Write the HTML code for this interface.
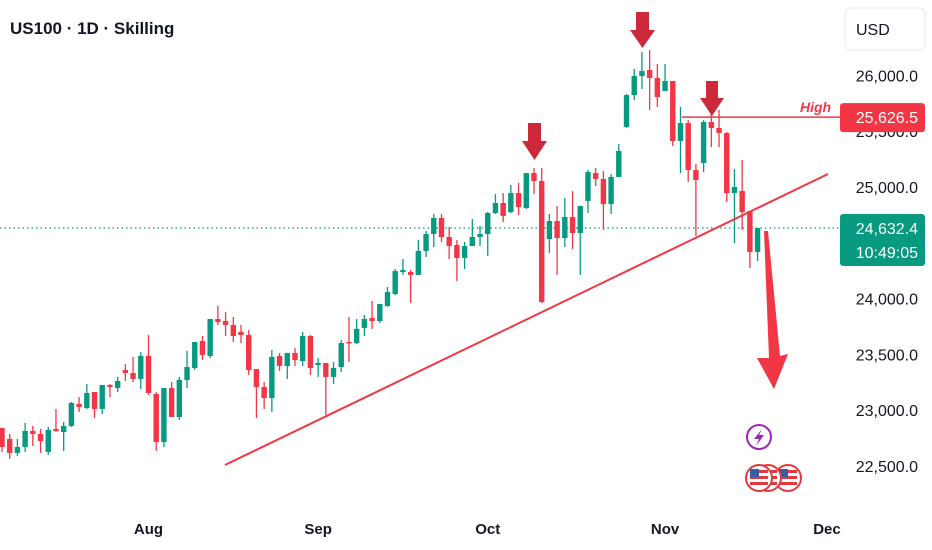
<!DOCTYPE html>
<html><head><meta charset="utf-8">
<style>
html,body{margin:0;padding:0;background:#fff;width:932px;height:550px;overflow:hidden;font-family:"Liberation Sans",sans-serif;}
svg text{font-family:"Liberation Sans",sans-serif;}
</style></head>
<body>
<svg id="chart" width="932" height="550" viewBox="0 0 932 550" xmlns="http://www.w3.org/2000/svg">
  <text x="10" y="34" font-size="17" font-weight="bold" fill="#131722">US100 · 1D · Skilling</text>
  <rect x="845" y="8" width="80" height="42" rx="6" fill="#fff" stroke="#e6e8ee"/>
  <text x="856" y="35" font-size="16" fill="#131722">USD</text>
  <g id="yaxis"></g>
  <g id="xaxis"></g>
  <line id="lastline" x1="0" x2="840" stroke="#089981" stroke-width="1.2" stroke-dasharray="1.5,3"/>
  <g id="candles"></g>
  <line x1="225" y1="465" x2="828" y2="174" stroke="#f23645" stroke-width="2"/>
  <line id="highline" x1="682" x2="840" stroke="#f23645" stroke-width="1.5"/>
  <text x="800" y="112" font-size="14" font-style="italic" font-weight="bold" fill="#f23645">High</text>
  <g id="highlbl"></g>
  <g id="lastlbl"></g>
  <polygon points="528,123 541,123 541,141 547,141 534.5,160 522,141 528,141" fill="#cc2a3b"/>
  <polygon points="636,12 649,12 649,30 655,30 642.5,48 630,30 636,30" fill="#cc2a3b"/>
  <polygon points="706,81 718,81 718,98 724,98 712,116 700,98 706,98" fill="#cc2a3b"/>
  <polygon points="764,231 768,231 780,356 788,354 774,389 757,358 769,358" fill="#f23645"/>
  <g>
    <circle cx="759" cy="437" r="12" fill="#fff" stroke="#9c27b0" stroke-width="2"/>
    <polygon points="762,429 754,439 759,439 756,446 764,435 759,435" fill="#9c27b0"/>
  </g>
  <g id="flags"></g>
</svg>
<script>
// data
const opens  = [22841,22742,22617,22670,22814,22787,22626,22832,22805,22859,23056,23020,23163,23011,23226,23199,23360,23333,23280,23486,23145,22715,23199,22939,23271,23378,23620,23486,23817,23799,23764,23701,23674,23369,23208,23109,23486,23396,23513,23441,23665,23405,23423,23298,23387,23611,23602,23737,23826,23799,23934,24041,24238,24238,24212,24427,24579,24722,24552,24480,24364,24471,24552,24579,24767,24857,24776,24946,24812,25125,25054,24534,24695,24543,24731,24588,24875,25125,25072,24848,25090,25538,25824,25995,26048,25977,25860,25950,25412,25573,25152,25215,25582,25529,25484,24946,24964,24785,24418];
const highs  = [22841,22787,22742,22885,22859,22832,22850,23011,22894,23074,23118,23235,23163,23226,23235,23298,23414,23477,23522,23674,23163,23199,23253,23298,23531,23611,23665,23817,23934,23880,23835,23764,23719,23369,23253,23540,23513,23513,23557,23701,23674,23468,23423,23432,23629,23835,23817,23853,23979,23952,24104,24265,24355,24256,24525,24606,24758,24758,24642,24525,24507,24713,24651,24776,24937,24946,25018,25036,25125,25170,25170,24758,24830,24901,24964,24830,25152,25170,25143,25116,25385,25833,26057,26210,26228,26102,26102,25950,25717,25600,25206,25600,25690,25690,25493,25161,25242,24785,24632];
const lows   = [22626,22563,22590,22626,22679,22617,22599,22805,22635,22850,22984,23011,22930,22966,23118,23163,23262,23253,23190,23136,22635,22670,22939,22912,23199,23360,23450,23468,23764,23665,23611,23602,23316,22930,23011,22984,23351,23280,23396,23396,23316,23298,22957,23235,23342,23432,23593,23665,23728,23781,23925,24032,24212,23961,24212,24373,24462,24507,24355,24158,24265,24471,24471,24382,24758,24686,24767,24749,24803,24937,23961,24409,24212,24462,24444,24212,24767,25009,24615,24758,25090,25529,25780,25878,25690,25717,25860,25367,25125,25045,24561,25134,25358,25358,24866,24498,24615,24274,24337];
const closes = [22670,22617,22670,22814,22787,22724,22823,22814,22859,23065,23029,23154,23011,23226,23208,23262,23333,23280,23486,23154,22715,23199,22939,23271,23387,23611,23495,23817,23790,23764,23665,23674,23360,23208,23109,23477,23396,23513,23450,23665,23378,23423,23298,23378,23602,23602,23728,23817,23799,23952,24059,24247,24256,24212,24427,24579,24722,24552,24471,24364,24471,24552,24579,24767,24857,24740,24946,24821,25125,25054,23970,24695,24543,24731,24588,24830,25134,25072,24848,25090,25323,25824,25995,26039,25977,25806,25950,25412,25573,25152,25063,25582,25529,25484,24946,25000,24776,24418,24632];
const priceTicks = [26000,25500,25000,24000,23500,23000,22500];
const monthLabels = ["Aug","Sep","Oct","Nov","Dec"];
const monthIndex = [19,41,63,86,107];
const lastPrice = 24632.4;
const highPrice = 25626.5;

const NS="http://www.w3.org/2000/svg";
const yOf = p => 187 + (25000 - p) * 0.1116;
const xOf = i => 2 + i * 7.71;
function mk(tag, attrs, parent){ const e=document.createElementNS(NS,tag); for(const k in attrs) e.setAttribute(k,attrs[k]); parent.appendChild(e); return e; }

const fmt = v => v.toLocaleString("en-US",{minimumFractionDigits:1,maximumFractionDigits:1});

const ya=document.getElementById("yaxis");
priceTicks.forEach(p=>{
  const t=mk("text",{x:918,y:yOf(p)+6,"font-size":16,fill:"#131722","text-anchor":"end"},ya);
  
  
  t.textContent=fmt(p);
});
const xa=document.getElementById("xaxis");
monthLabels.forEach((m,i)=>{
  const t=mk("text",{x:xOf(monthIndex[i]),y:534,"font-size":15,"font-weight":"bold",fill:"#131722","text-anchor":"middle"},xa);
  
  
  t.textContent=m;
});

const ll=document.getElementById("lastline");
ll.setAttribute("y1",yOf(lastPrice)); ll.setAttribute("y2",yOf(lastPrice));
const hl=document.getElementById("highline");
hl.setAttribute("y1",yOf(highPrice)); hl.setAttribute("y2",yOf(highPrice));

const cg=document.getElementById("candles");
opens.forEach((o,i)=>{
  const c=closes[i], up=c>=o, col=up?"#089981":"#f23645", x=xOf(i);
  const g=mk("g",{},cg);
  
  
  mk("line",{x1:x,x2:x,y1:yOf(highs[i]),y2:yOf(lows[i]),stroke:col,"stroke-width":1.3},g);
  const top=yOf(Math.max(o,c)), bot=yOf(Math.min(o,c));
  mk("rect",{x:x-2.7,y:top,width:5.4,height:Math.max(1.5,bot-top),fill:col},g);
});

const hg=document.getElementById("highlbl");
const hy=yOf(highPrice);
mk("rect",{x:840,y:hy-14,width:85,height:29,rx:3,fill:"#f23645"},hg);
const ht=mk("text",{x:918,y:hy+6,"font-size":16,fill:"#fff","text-anchor":"end"},hg);
ht.textContent=fmt(highPrice);

const lg=document.getElementById("lastlbl");
const ly=yOf(lastPrice);
mk("rect",{x:840,y:ly-14,width:85,height:52,rx:3,fill:"#089981"},lg);
const lt=mk("text",{x:918,y:ly+6,"font-size":16,fill:"#fff","text-anchor":"end"},lg);
lt.textContent=fmt(lastPrice);
const lt2=mk("text",{x:918,y:ly+30,"font-size":16,fill:"#fff","text-anchor":"end"},lg);
lt2.textContent="10:49:05";

const fg=document.getElementById("flags");
[788,768,759].forEach(cx=>{
  const g=mk("g",{},fg);
  
  
  mk("circle",{cx:cx,cy:478,r:13,fill:"#fff",stroke:"#e03a3e","stroke-width":2},g);
  mk("rect",{x:cx-9,y:470,width:18,height:3,fill:"#e03a3e"},g);
  mk("rect",{x:cx-9,y:476,width:18,height:3,fill:"#e03a3e"},g);
  mk("rect",{x:cx-9,y:482,width:18,height:3,fill:"#e03a3e"},g);
  mk("rect",{x:cx-9,y:469,width:9,height:8,fill:"#3c5aa6"},g);
});
</script>
</body></html>
